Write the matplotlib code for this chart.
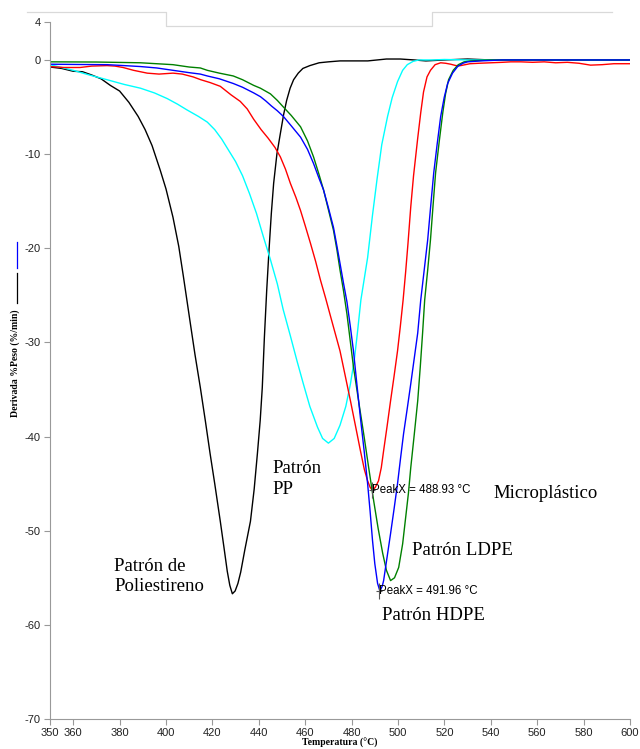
import matplotlib
matplotlib.use("Agg")
import matplotlib.pyplot as plt
from matplotlib.lines import Line2D

plt.rcParams['font.family'] = ['Liberation Sans', 'DejaVu Sans']
plt.rcParams['axes.unicode_minus'] = False

# DTG curves, (temperature °C, derivative %/min)
ps_pts = [(350, -0.75), (355, -0.9), (360, -1.2), (364, -1.25), (368, -1.6), (372, -2.0),
          (376, -2.7), (380, -3.3), (384, -4.5), (388, -6.0), (391, -7.4), (394, -9.1),
          (397.5, -11.7), (400, -13.7), (403, -16.7), (405.5, -19.8), (407.5, -23.0),
          (410.5, -28.0), (412.5, -31.3), (414.8, -34.8), (417, -38.4), (419, -41.8),
          (421, -45.0), (423.4, -49.0), (425, -51.8), (426.4, -54.3), (427.5, -55.8),
          (428.6, -56.7), (429.8, -56.4), (431, -55.6), (432.2, -54.4), (434, -52.0),
          (436.4, -49.0), (438, -45.6), (439.4, -41.8), (440.6, -38.3), (441.5, -34.8),
          (442.4, -29.5), (443.4, -24.5), (444.4, -20.2), (445.4, -16.3), (446.4, -13.1),
          (447.8, -10.0), (449.3, -7.8), (450.7, -5.8), (452, -4.3), (453.5, -3.0),
          (455, -2.1), (457, -1.4), (459, -0.9), (462, -0.6), (466, -0.3), (470, -0.2),
          (475, -0.1), (480, -0.1), (487, -0.1), (491, 0.0), (495, 0.1), (501, 0.1),
          (507, 0.0), (512, -0.1), (520, 0.0), (530, 0.1), (540, 0.0), (560, 0.0),
          (580, 0.0), (600, 0.0)]

pp_pts = [(350, -0.5), (360, -1.1), (367, -1.6), (374.6, -2.1), (382, -2.6), (389, -3.0),
          (395, -3.5), (400.5, -4.1), (405, -4.7), (409, -5.3), (414, -6.0), (417.8, -6.6),
          (421, -7.4), (424, -8.4), (427, -9.6), (430, -10.8), (433, -12.3), (436, -14.2),
          (439, -16.3), (442, -18.8), (445, -21.2), (448, -23.8), (450.5, -26.5),
          (453.6, -29.3), (456.5, -32.0), (459.2, -34.4), (462, -36.8), (465.3, -39.0),
          (467.5, -40.2), (470, -40.7), (472.5, -40.2), (475, -38.8), (477.5, -36.8),
          (479.5, -34.4), (481.2, -31.8), (482.5, -29.0), (484, -25.5), (486.9, -21.0),
          (489, -16.5), (491, -12.6), (493, -9.0), (495.5, -6.0), (497.5, -4.0),
          (499.8, -2.3), (502, -1.1), (504, -0.5), (506.5, -0.15), (509, 0.0), (515, 0.0),
          (520, 0.05), (530, 0.0), (540, 0.0), (560, 0.0), (580, 0.0), (600, 0.0)]

micro_pts = [(350, -0.7), (356, -0.8), (363, -0.8), (368, -0.65), (374.6, -0.6), (378, -0.65),
             (381.5, -0.8), (386, -1.1), (391.9, -1.4), (397, -1.5), (403, -1.4), (407, -1.5),
             (411.7, -1.8), (415, -2.1), (419, -2.4), (423.4, -2.8), (428, -3.7), (432, -4.4),
             (435, -5.2), (437.8, -6.3), (441, -7.4), (444, -8.3), (447, -9.3), (449.3, -10.3),
             (451.5, -11.6), (453.6, -13.1), (456, -14.6), (458, -16.0), (460, -17.6),
             (462.3, -19.5), (464.5, -21.4), (466.6, -23.4), (468.8, -25.3), (471, -27.3),
             (475, -30.9), (477.3, -33.6), (479.5, -36.2), (481.7, -38.9), (483.8, -41.5),
             (485.5, -43.5), (486.9, -44.7), (488, -45.4), (489, -45.7), (490.2, -45.4),
             (491.6, -44.7), (492.8, -43.3), (493.8, -41.5), (495.3, -38.9), (496.8, -36.2),
             (498.3, -33.6), (499.8, -30.9), (501, -28.3), (502.2, -25.5), (503.3, -22.5),
             (504.3, -19.5), (505.5, -15.6), (506.7, -12.3), (508.5, -8.3), (509.8, -5.6),
             (511, -3.4), (512.5, -1.8), (514, -1.1), (516, -0.5), (518.4, -0.3),
             (520.5, -0.35), (522.7, -0.45), (525, -0.6), (527, -0.6), (529, -0.5),
             (531, -0.4), (535, -0.35), (540, -0.3), (545, -0.25), (548.6, -0.2), (553, -0.2),
             (558, -0.25), (563, -0.2), (568, -0.3), (573, -0.25), (578, -0.35), (583, -0.55),
             (588, -0.5), (593, -0.4), (600, -0.4)]

ldpe_pts = [(350, -0.2), (370, -0.22), (389, -0.3), (396, -0.4), (403, -0.5), (410, -0.75),
            (414.8, -0.85), (417.8, -1.1), (423, -1.4), (429, -1.7), (433, -2.1),
            (437.8, -2.7), (440.7, -3.0), (445, -3.6), (448, -4.3), (450.6, -5.0), (454, -5.9),
            (458, -7.1), (461, -8.6), (463.6, -10.3), (466, -12.2), (467.9, -13.8),
            (470, -15.9), (472.2, -18.1), (473.7, -20.2), (475, -22.3), (476.5, -24.5),
            (478, -27.0), (479.3, -29.6), (480.8, -32.6), (483, -36.2), (485.2, -39.7),
            (487.3, -43.2), (489.5, -46.8), (491.4, -49.7), (493.4, -52.4), (495, -54.2),
            (496.8, -55.3), (498.5, -55.0), (500.3, -53.9), (502, -51.4), (503.3, -48.6),
            (504.5, -46.0), (505.5, -43.3), (507, -39.8), (508.5, -36.2), (509.6, -32.6),
            (510.6, -29.0), (511.5, -25.5), (512.8, -22.3), (514, -19.1), (515.1, -15.5),
            (516.2, -12.0), (517.8, -8.6), (519.3, -5.6), (520.5, -3.6), (521.8, -2.1),
            (523.8, -1.1), (526, -0.5), (528.5, -0.2), (531.3, -0.1), (540, 0.0),
            (560, 0.0), (580, 0.0), (600, 0.0)]

hdpe_pts = [(350, -0.45), (362, -0.48), (374.6, -0.5), (382, -0.6), (389, -0.7), (396, -0.85),
            (403, -1.1), (410, -1.35), (414.8, -1.5), (417.8, -1.7), (423, -2.0), (429, -2.5),
            (433, -2.9), (437.8, -3.5), (440.7, -3.9), (443, -4.35), (445.5, -4.9),
            (448, -5.4), (450.6, -6.0), (454, -7.0), (458, -8.2), (461, -9.5), (463.6, -11.0),
            (466, -12.6), (467.9, -13.8), (470, -15.7), (472.2, -17.8), (473.7, -19.8),
            (475, -21.6), (476.5, -23.7), (478, -25.7), (479.5, -28.4), (480.8, -30.9),
            (482.3, -34.5), (483.8, -38.0), (485.4, -41.5), (486.9, -45.0), (488, -48.0),
            (489, -51.0), (490, -53.5), (491.2, -55.6), (492.2, -56.4), (493.2, -55.9),
            (493.8, -55.3), (495.3, -52.8), (496.8, -50.3), (498.3, -47.7), (499.8, -45.0),
            (501.1, -42.3), (502.4, -39.7), (504, -37.0), (505.5, -34.4), (507, -31.7),
            (508.5, -29.0), (509.8, -25.5), (511.3, -22.3), (512.8, -19.1), (514.1, -15.5),
            (515.4, -12.0), (516.9, -8.9), (518.4, -6.0), (519.9, -4.0), (521.4, -2.5),
            (523.5, -1.4), (525.7, -0.7), (528, -0.35), (530, -0.2), (535.7, -0.1),
            (545, 0.0), (560, 0.0), (580, 0.0), (600, 0.0)]

series = [(ps_pts, 'black'), (pp_pts, '#00ffff'), (micro_pts, '#ff0000'),
          (ldpe_pts, '#008000'), (hdpe_pts, '#0000ff')]

peaks = [(488.93, -45.7, 'PeakX = 488.93 °C'), (491.96, -56.4, 'PeakX = 491.96 °C')]

labels = [(377.6, -54.9, 'Patrón de\nPoliestireno'), (446.1, -44.5, 'Patrón\nPP'),
          (541.0, -46.1, 'Microplástico'), (506.0, -52.1, 'Patrón LDPE'),
          (493.1, -59.0, 'Patrón HDPE')]

xticks = [350, 360, 380, 400, 420, 440, 460, 480, 500, 520, 540, 560, 580, 600]
yticks = [4, 0, -10, -20, -30, -40, -50, -60, -70]

W, H = 640, 749
fig = plt.figure(figsize=(6.4, 7.49), dpi=100)
ax = fig.add_axes([50 / W, 1 - 719 / H, 580 / W, (719 - 22.3) / H])

for pts, c in series:
    xs = [p[0] for p in pts]
    ys = [p[1] for p in pts]
    ax.plot(xs, ys, color=c, lw=1.0)

for px, py, txt in peaks:
    ax.plot([px], [py], marker='|', ms=11, color='#555555', mew=0.8)
    ax.plot([px], [py], marker='_', ms=4, color='#555555', mew=0.8)
    ax.text(px, py, txt, fontsize=8.3, va='center', ha='left', color='black')

for lx, ly, txt in labels:
    ax.text(lx, ly, txt, fontsize=13.5, family='Liberation Serif', va='center',
            ha='left', linespacing=1.25)

ax.set_xlim(350, 600)
ax.set_ylim(-70, 4)
ax.set_xticks(xticks)
ax.set_yticks(yticks)
ax.tick_params(labelsize=8, colors='#999999', labelcolor='#222222', length=4, width=0.8, pad=2.5)
for s in ['top', 'right']:
    ax.spines[s].set_visible(False)
for s in ['left', 'bottom']:
    ax.spines[s].set_color('#999999')
    ax.spines[s].set_linewidth(0.8)

ax.set_xlabel('Temperatura (°C)', family='Liberation Serif', weight='bold', fontsize=7, labelpad=0)
fig.text(15 / W, 1 - 363 / H, 'Derivada %Peso (%/min)', family='Liberation Serif',
         weight='bold', fontsize=7, rotation=90, ha='center', va='center')

# little legend strokes next to the y label
fig.add_artist(Line2D([17 / W, 17 / W], [1 - 242 / H, 1 - 268 / H], color='#0000ff', lw=0.9))
fig.add_artist(Line2D([17 / W, 17 / W], [1 - 273 / H, 1 - 303 / H], color='black', lw=0.9))

# faint frame at the top
fx = [27, 166, 166, 432, 432, 612]
fy = [12, 12, 26, 26, 12, 12]
fig.add_artist(Line2D([v / W for v in fx], [1 - v / H for v in fy], color='#d9d9d9', lw=0.9))

fig.savefig('out.png', dpi=100)
